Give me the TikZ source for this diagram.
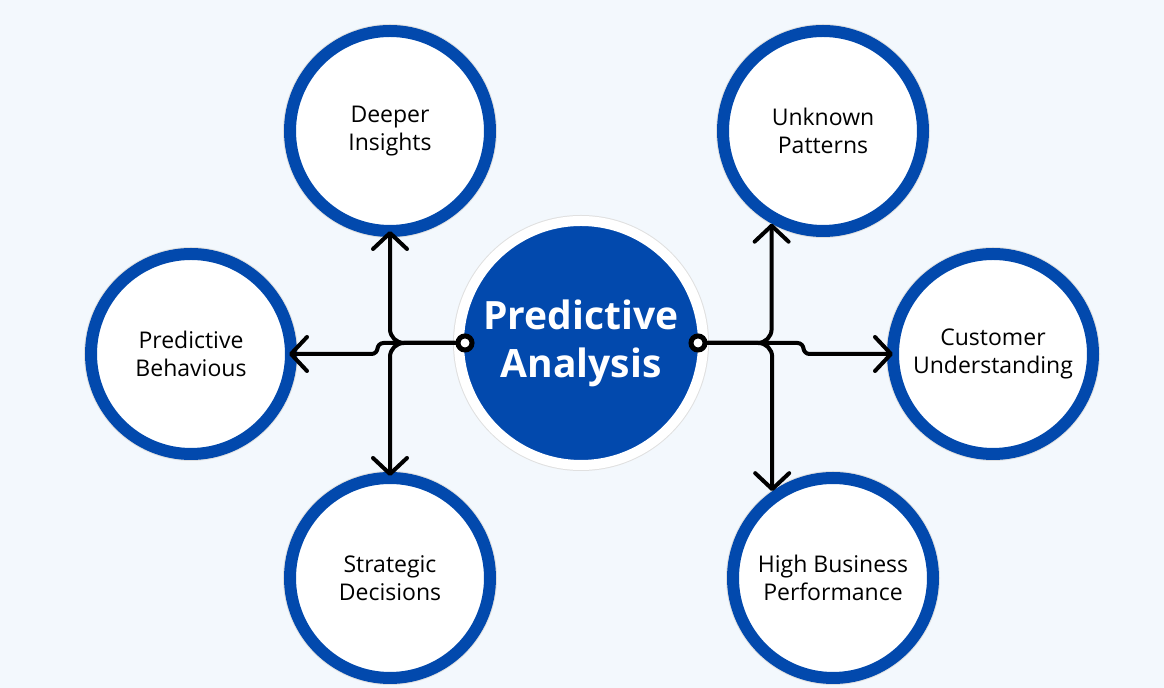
\documentclass[tikz,border=0pt]{standalone}
\usepackage{fontspec}
\setmainfont{Open Sans}
\usetikzlibrary{arrows.meta,positioning,calc}
\definecolor{royal}{HTML}{0249AD}
\definecolor{paper}{HTML}{F3F8FD}
\tikzset{
  topic/.style={circle,draw=royal,line width=6pt,fill=white,minimum size=100pt,inner sep=0pt,
    align=center,font=\fontsize{11.5}{14}\selectfont,preaction={draw=black!12,line width=7pt}},
  core/.style={circle,draw=white,line width=5pt,fill=royal,minimum size=122pt,inner sep=0pt,
    align=center,text=white,font=\bfseries\fontsize{19.5}{24}\selectfont,preaction={draw=black!12,line width=6pt}},
  hub/.style={circle,draw=black,line width=2.5pt,fill=white,minimum size=7pt,inner sep=0pt},
  conn/.style={-{Straight Barb[length=8pt,width=17pt,round]},line width=2pt,line cap=round,line join=round}
}

\begin{document}
\begin{tikzpicture}[x=0.5pt,y=-0.5pt]
    \fill[paper] (0,0) rectangle (1164,688);
    \useasboundingbox (0,0) rectangle (1164,688);

    \node[core] (pa) at (581,343) {Predictive\\Analysis};
    \node[topic] (deeper) at (390,131) {Deeper\\Insights};
    \node[topic] (unknown) at (823,131) {Unknown\\Patterns};
    \node[topic] (behav) at (191,354) {Predictive\\Behavious};
    \node[topic] (customer) at (993,354) {Customer\\Understanding};
    \node[topic] (strategic) at (390,578) {Strategic\\Decisions};
    \node[topic] (highbiz) at (833,578) {High Business\\Performance};

    \node[hub] (lhub) at (465,343) {};
    \node[hub] (rhub) at (698,343) {};

    % left side
    \draw[conn,rounded corners=7pt,shorten >=-3pt] (lhub.west) -| (deeper.south);
    \draw[conn,rounded corners=7pt,shorten >=-2pt] (lhub.west) -| (strategic.north);
    \draw[conn,rounded corners=3pt,shorten >=-4pt] (lhub.west) -- ++(-78,0) |- (behav.east);

    % right side
    \draw[conn,rounded corners=7pt] (rhub.east) -| (unknown.241);
    \draw[conn,rounded corners=7pt] (rhub.east) -| (highbiz.125);
    \draw[conn,rounded corners=3pt,shorten >=-3pt] (rhub.east) -- ++(96,0) |- (customer.west);
  \end{tikzpicture}
\end{document}
